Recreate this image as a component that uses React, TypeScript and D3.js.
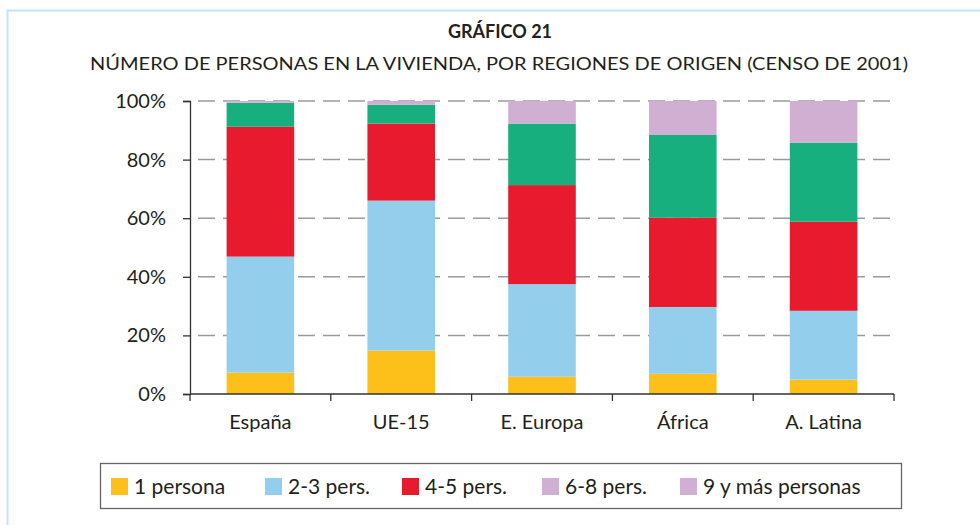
import React, { useEffect, useRef } from 'react';
import * as d3 from 'd3';

// regions of origin
const regions = ['España', 'UE-15', 'E. Europa', 'África', 'A. Latina'];

// household size groups
const groups = ['1 persona', '2-3 pers.', '4-5 pers.', '6-8 pers.', '9 y más personas'];

// share of people (%) per group, one array per group, in region order
const onePerson = [7.3, 14.8, 5.9, 6.9, 4.9];
const twoThree = [39.6, 51.2, 31.6, 22.8, 23.5];
const fourFive = [44.3, 26.3, 33.8, 30.5, 30.4];
const sixEight = [8.2, 6.4, 21.0, 28.2, 27.0];
const ninePlus = [0.6, 1.3, 7.7, 11.6, 14.2];

const yTicks = [0, 20, 40, 60, 80, 100];

const barColors = ['#fdbf1a', '#93cfec', '#e81b2e', '#18af7f', '#d1afd3'];
// the legend in the original shows the 6-8 swatch in lilac as well
const legendColors = ['#fdbf1a', '#93cfec', '#e81b2e', '#d1afd3', '#d1afd3'];

const font = 'Lato, "Open Sans", sans-serif';

const App = () => {
  const ref = useRef<HTMLDivElement>(null);

  const W = 980;
  const H = 525;
  const margin = { top: 101, left: 190, right: 86, bottom: 131 };
  const width = W - margin.left - margin.right;
  const height = H - margin.top - margin.bottom;

  useEffect(() => {
    if (!ref.current) return;
    ref.current.innerHTML = '';

    const table = regions.map((r, i) => ({
      region: r,
      '1 persona': onePerson[i],
      '2-3 pers.': twoThree[i],
      '4-5 pers.': fourFive[i],
      '6-8 pers.': sixEight[i],
      '9 y más personas': ninePlus[i],
    }));

    const stacked = d3.stack<any>().keys(groups)(table);

    const x = d3.scaleBand().domain(regions).range([0, width]).paddingInner(0.52).paddingOuter(0.26);
    const y = d3.scaleLinear().domain([0, 100]).range([height, 0]);

    const svg = d3.select(ref.current)
      .append('svg')
      .attr('width', W)
      .attr('height', H)
      .style('display', 'block')
      .style('font-family', font);

    svg.append('rect').attr('width', W).attr('height', H).attr('fill', '#fff');

    // light blue frame (top and left)
    svg.append('path')
      .attr('d', `M7.5,${H} V10.5 H${W}`)
      .attr('fill', 'none')
      .attr('stroke', '#bfe6f8')
      .attr('stroke-width', 2);

    // titles
    svg.append('text')
      .attr('x', 500).attr('y', 38)
      .attr('text-anchor', 'middle')
      .attr('font-size', 18).attr('font-weight', 'bold').attr('fill', '#231f20')
      .text('GRÁFICO 21');
    svg.append('text')
      .attr('x', 499).attr('y', 70)
      .attr('text-anchor', 'middle')
      .attr('font-size', 18).attr('fill', '#231f20')
      .attr('textLength', 818).attr('lengthAdjust', 'spacingAndGlyphs')
      .text('NÚMERO DE PERSONAS EN LA VIVIENDA, POR REGIONES DE ORIGEN (CENSO DE 2001)');

    const g = svg.append('g').attr('transform', `translate(${margin.left},${margin.top})`);

    // dashed gridlines
    g.append('g')
      .selectAll('line')
      .data(yTicks.filter(t => t > 0))
      .enter().append('line')
      .attr('x1', 0).attr('x2', width)
      .attr('y1', d => y(d)).attr('y2', d => y(d))
      .attr('stroke', '#9a9a9a')
      .attr('stroke-width', 1.5)
      .attr('stroke-dasharray', '17,8')
      .attr('stroke-dashoffset', -8);

    // stacked bars
    g.append('g')
      .selectAll('g')
      .data(stacked)
      .enter().append('g')
      .attr('fill', (d, i) => barColors[i])
      .selectAll('rect')
      .data(d => d)
      .enter().append('rect')
      .attr('x', d => x(d.data.region) as number)
      .attr('y', d => y(d[1]))
      .attr('width', x.bandwidth())
      .attr('height', d => y(d[0]) - y(d[1]));

    // y axis
    const yAxis = g.append('g')
      .call(d3.axisLeft(y).tickValues(yTicks).tickSize(7).tickPadding(17).tickFormat(d => `${d}%`));
    yAxis.select('.domain').attr('stroke', '#333').attr('stroke-width', 1.3);
    yAxis.selectAll('.tick line').attr('stroke', '#333').attr('stroke-width', 1.3);
    yAxis.selectAll('.tick text')
      .attr('font-size', 20).attr('font-family', font).attr('fill', '#231f20');

    // x axis with ticks at band edges
    const xAxis = g.append('g').attr('transform', `translate(0,${height})`);
    xAxis.append('line')
      .attr('x1', 0).attr('x2', width)
      .attr('stroke', '#333').attr('stroke-width', 1.3);
    const step = x.step();
    const edges = d3.range(regions.length + 1).map(i => i * step);
    xAxis.selectAll('.edge')
      .data(edges)
      .enter().append('line')
      .attr('class', 'edge')
      .attr('x1', d => d).attr('x2', d => d)
      .attr('y1', 0).attr('y2', 7)
      .attr('stroke', '#333').attr('stroke-width', 1.3);
    xAxis.selectAll('.lbl')
      .data(regions)
      .enter().append('text')
      .attr('class', 'lbl')
      .attr('x', d => (x(d) as number) + x.bandwidth() / 2)
      .attr('y', 35)
      .attr('text-anchor', 'middle')
      .attr('font-size', 20).attr('fill', '#231f20')
      .text(d => d);

    // legend
    const legend = svg.append('g');
    legend.append('rect')
      .attr('x', 100.5).attr('y', 463.5)
      .attr('width', 801).attr('height', 45)
      .attr('fill', '#fff').attr('stroke', '#666').attr('stroke-width', 1.3);
    const legendX = [111, 265, 402, 542, 680];
    const items = legend.selectAll('.item')
      .data(groups)
      .enter().append('g')
      .attr('class', 'item')
      .attr('transform', (d, i) => `translate(${legendX[i]},478)`);
    items.append('rect')
      .attr('width', 17).attr('height', 17)
      .attr('fill', (d, i) => legendColors[i]);
    items.append('text')
      .attr('x', 23).attr('y', 16)
      .attr('font-size', 21).attr('fill', '#231f20')
      .text(d => d);
  }, []);

  return <div ref={ref} style={{ position: 'absolute', left: 0, top: 0 }}></div>;
};

export default App;
